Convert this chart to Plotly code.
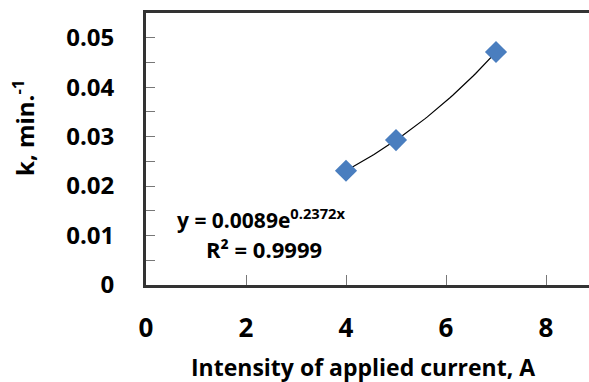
import numpy as np
import plotly.graph_objects as go

current = [4, 5, 7]
k_values = [0.0231, 0.0293, 0.0471]
x_ticks = [0, 2, 4, 6, 8]
y_ticks = [0, 0.01, 0.02, 0.03, 0.04, 0.05]
y_tick_labels = ["0", "0.01", "0.02", "0.03", "0.04", "0.05"]

# exponential trendline fitted to the data
b, ln_a = np.polyfit(current, np.log(k_values), 1)
xs = np.linspace(min(current), max(current), 60)
ys = np.exp(ln_a) * np.exp(b * xs)

FONT = "Open Sans"
L, T, R_EDGE, B = 146, 13, 589, 285
PW, PH = R_EDGE - L, B - T


def px(xp):
    return (xp - L) / PW


def py(yp):
    return (B - yp) / PH


fig = go.Figure()
fig.add_trace(go.Scatter(x=xs, y=ys, mode="lines",
                         line=dict(color="black", width=1.2), hoverinfo="skip"))
fig.add_trace(go.Scatter(x=current, y=k_values, mode="markers",
                         marker=dict(symbol="diamond", size=17, color="#4A7EBF",
                                     line=dict(width=0))))

fig.add_annotation(x=px(175), y=py(218), xref="paper", yref="paper", showarrow=False,
                   xanchor="left", yanchor="middle",
                   text="<b>y = 0.0089e<sup>0.2372x</sup></b>",
                   font=dict(family=FONT, size=21, color="black"))
fig.add_annotation(x=px(204), y=py(249), xref="paper", yref="paper", showarrow=False,
                   xanchor="left", yanchor="middle",
                   text="<b>R² = 0.9999</b>",
                   font=dict(family=FONT, size=22, color="black"))
# axis titles
fig.add_annotation(x=px(362.5), y=py(367), xref="paper", yref="paper",
                   showarrow=False, xanchor="center", yanchor="middle",
                   text="<b>Intensity of applied current, A</b>",
                   font=dict(family=FONT, size=23, color="black"))
fig.add_annotation(x=px(23), y=py(128), xref="paper", yref="paper",
                   showarrow=False, xanchor="center", yanchor="middle", textangle=-90,
                   text="<b>k, min.<sup>-1</sup></b>",
                   font=dict(family=FONT, size=24, color="black"))

fig.update_layout(
    width=589, height=382,
    margin=dict(l=L, r=0, t=T, b=382 - B),
    paper_bgcolor="white", plot_bgcolor="white",
    showlegend=False,
    font=dict(family=FONT, color="black"),
    xaxis=dict(range=[0, 8.86], tickvals=x_ticks, ticks="inside", ticklen=10,
               tickcolor="#777", showgrid=False, zeroline=False,
               showline=True, linecolor="#333", linewidth=3, mirror=True,
               tickfont=dict(family=FONT, size=26, color="black", weight="bold"),
               ticklabelstandoff=18),
    yaxis=dict(range=[0, 0.055], tickvals=y_ticks, ticktext=y_tick_labels,
               ticks="inside", ticklen=9, tickcolor="#777",
               minor=dict(tickvals=[0.005, 0.015, 0.025, 0.035, 0.045],
                          ticks="inside", ticklen=9, tickcolor="#777"),
               showgrid=False, zeroline=False,
               showline=True, linecolor="#333", linewidth=3, mirror=False,
               tickfont=dict(family=FONT, size=24, color="black", weight="bold"),
               ticklabelstandoff=24),
)

fig.write_html("out.html")
